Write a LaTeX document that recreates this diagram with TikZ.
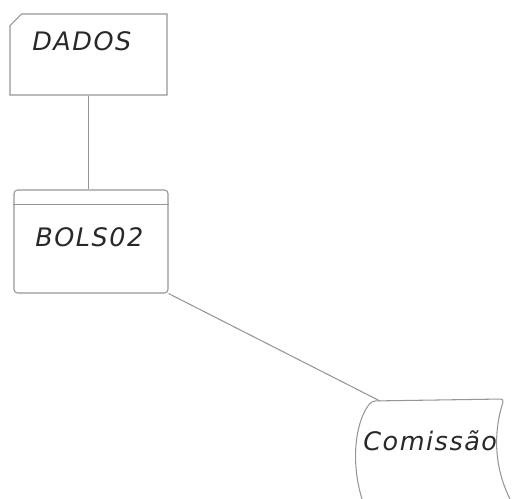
\documentclass[tikz,border=0pt]{standalone}
\usepackage{fontspec}
\usetikzlibrary{shapes.misc, positioning, calc}
\newfontfamily\handfont[LetterSpace=6]{DejaVu Sans}
\definecolor{pencil}{RGB}{150,150,150}
\definecolor{inkgray}{RGB}{40,40,40}
\tikzset{
    pencilline/.style={draw=pencil, line width=0.6pt},
    handtext/.style={
        font=\handfont\itshape\fontsize{14.5}{17}\selectfont,
        text=inkgray, inner sep=0pt
    },
    databox/.style={
        chamfered rectangle, chamfered rectangle corners=north west,
        chamfered rectangle xsep=4pt, chamfered rectangle ysep=4pt,
        pencilline, minimum width=3.14cm, minimum height=1.62cm
    },
    modulebox/.style={
        rectangle, rounded corners=2pt, pencilline,
        minimum width=3.08cm, minimum height=2.06cm
    },
    link/.style={pencilline}
}
\begin{document}
\begin{tikzpicture}[x=0.02cm, y=-0.02cm]
    \useasboundingbox (0,0) rectangle (512,499);

    % Boxes
    \node[databox] (dados) at (88.5,54.5) {};
    \node[handtext, anchor=west] (dadostxt) at (32,41) {DADOS};

    \node[modulebox] (bols) at (91,241.5) {};
    \draw[pencilline] ($(bols.north west)+(0,-0.3cm)$) -- ($(bols.north east)+(0,-0.3cm)$);
    \node[handtext, anchor=west] (bolstxt) at (35,237) {BOLS02};

    % Output document
    \draw[pencilline, rounded corners=2pt] (362,499) .. controls (350,460) and (356,420) .. (372,401)
        -- (504,399) .. controls (494,430) and (493,465) .. (510,499);
    \coordinate (comtop) at (380,401);
    \node[handtext, anchor=west] (comissao) at (363,441) {Comissão};

    % Links
    \draw[link] (dados.south) -- (dados.south |- bols.north);
    \draw[link] (bols.south east) -- (comtop);
\end{tikzpicture}
\end{document}
